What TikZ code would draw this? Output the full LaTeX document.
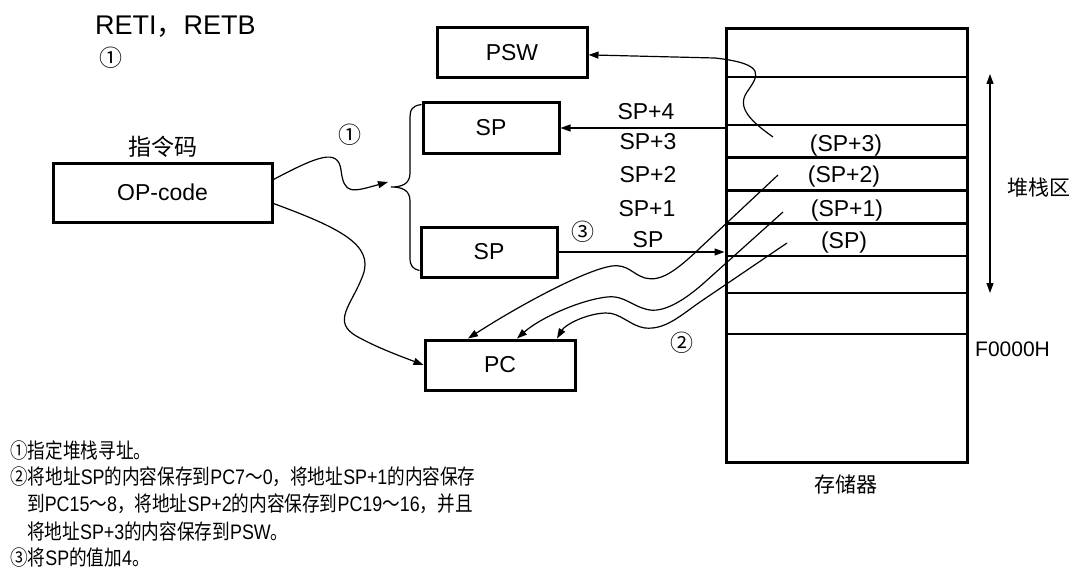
\documentclass[tikz,border=0pt]{standalone}
\usepackage{fontspec}
\setmainfont{Liberation Sans}
\newfontfamily\zhfont{Noto Sans CJK SC}
\newfontfamily\zhnote[FakeStretch=0.84]{Noto Sans CJK SC}
\newfontfamily\lnote[FakeStretch=0.85]{Liberation Sans}
\newcommand{\zh}[1]{{\zhfont#1}}
\newcommand{\zn}[1]{{\zhnote#1}}
\usetikzlibrary{arrows.meta}
\tikzset{
  reg/.style={draw, line width=3pt, minimum height=50pt, inner sep=0pt, font=\fontsize{23}{27}\selectfont},
  lbl/.style={font=\fontsize{23}{27}\selectfont, inner sep=0pt},
  small/.style={font=\fontsize{21}{25}\selectfont, inner sep=0pt},
  note/.style={font=\fontsize{21}{25}\selectfont\lnote, inner sep=0pt, anchor=west},
  arr/.style={-{Triangle[length=10pt,width=7pt]}, line width=1.2pt},
  wire/.style={line width=1.2pt}
}

\begin{document}
\begin{tikzpicture}[x=1pt,y=-1pt]
\useasboundingbox (0,0) rectangle (1072,578);
\node[lbl, anchor=west, font=\fontsize{27}{30}\selectfont] (title) at (95,27) {RETI\zh{，}RETB};
\node[lbl] (c1a) at (111,58) {\zh{①}};
\node[lbl] (opname) at (163,147) {\zh{指令码}};
\node[reg, minimum width=219pt, minimum height=59pt] (opcode) at (162.5,192.5) {OP-code};
\node[reg, minimum width=150pt] (psw) at (512,53) {PSW};
\node[reg, minimum width=136pt] (sptop) at (491,128) {SP};
\node[reg, minimum width=136pt] (spbot) at (489,252) {SP};
\node[reg, minimum width=150pt] (pc) at (500,365) {PC};
\node[draw, line width=3pt, minimum width=241pt, minimum height=433pt, inner sep=0pt] (mem) at (846.5,245.5) {};
\foreach \y in {77,125,256,293,334}
  \draw[line width=1.5pt] (mem.west |- 0,\y) -- (mem.east |- 0,\y);
\foreach \y in {157,190,223}
  \draw[line width=3pt] (mem.west |- 0,\y) -- (mem.east |- 0,\y);
\node[lbl] (a4) at (646,112) {SP+4};
\node[lbl] (a3) at (648,142) {SP+3};
\node[lbl] (a2) at (648,175) {SP+2};
\node[lbl] (a1) at (647,209) {SP+1};
\node[lbl] (a0) at (648,240) {SP};
\node[lbl] (m3) at (846,146) {(SP+3)};
\node[lbl] (m2) at (844,177) {(SP+2)};
\node[lbl] (m1) at (847,211) {(SP+1)};
\node[lbl] (m0) at (844,243) {(SP)};
\node[lbl] (c1b) at (350,135) {\zh{①}};
\node[lbl] (c3) at (583,232) {\zh{③}};
\node[lbl] (c2) at (682,343) {\zh{②}};
\coordinate (stop) at (990,74);
\coordinate (sbot) at (990,293);
\draw[{Triangle[length=10pt,width=7pt]}-{Triangle[length=10pt,width=7pt]}, line width=1.2pt] (stop) -- (sbot);
\node[small, anchor=west] (stack) at (1007,188) {\zh{堆栈区}};
\node[small, anchor=west] (base) at (975,349) {F0000H};
\node[small] (memname) at (846,484) {\zh{存储器}};
\node[note] (n1) at (10,451) {\zn{①指定堆栈寻址。}};
\node[note] (n2) at (10,477) {\zn{②将地址}SP\zn{的内容保存到}PC7\zn{～}0\zn{，将地址}SP+1\zn{的内容保存}};
\node[note] (n3) at (27,504) {\zn{到}PC15\zn{～}8\zn{，将地址}SP+2\zn{的内容保存到}PC19\zn{～}16\zn{，并且}};
\node[note] (n4) at (27,531) {\zn{将地址}SP+3\zn{的内容保存到}PSW\zn{。}};
\node[note] (n5) at (10,558) {\zn{③将}SP\zn{的值加}4\zn{。}};
\coordinate (p3) at (773,137);
\draw[arr] (p3) .. controls (752,122) and (736,108) .. (747,92) .. controls (758,76) and (768,64) .. (715,58) -- (psw);
\draw[arr] (mem.west |- sptop) -- (sptop);
\draw[arr] (spbot) -- (spbot -| mem.west);
\coordinate (bt) at (391,187);
\coordinate (fork) at (388,182);
\draw[arr] ([yshift=13pt]opcode.east) .. controls (318,156) and (338,148) .. (341,170) .. controls (344,195) and (352,192) .. (fork);
\draw[wire] ([yshift=-3pt]sptop.north west) .. controls (411,106) and (410,110) .. (410,120) -- (410,173) .. controls (410,184) and (402,187) .. (bt) .. controls (402,187) and (410,190) .. (410,201) -- (410,258) .. controls (410,266) and (413,269) .. ([yshift=8pt]spbot.south west);
\draw[arr] ([yshift=-11pt]opcode.east) .. controls (340,228) and (374,245) .. (363,275) .. controls (352,305) and (330,322) .. (358,337) .. controls (378,348) and (400,356) .. (pc.west);
\coordinate (s2) at (778,175);
\coordinate (s1) at (783,212);
\coordinate (s0) at (787,243);
\draw[arr] (s2) -- (700,248) .. controls (675,272) and (660,282) .. (645,278) .. controls (632,274) and (628,264) .. (612,266) .. controls (585,270) and (520,305) .. ([xshift=-32pt]pc.north);
\draw[arr] (s1) -- (705,282) .. controls (685,300) and (665,312) .. (650,310) .. controls (632,307) and (625,295) .. (607,297) .. controls (580,300) and (540,318) .. ([xshift=17pt]pc.north);
\draw[arr] (s0) -- (700,302) .. controls (680,316) and (665,330) .. (645,328) .. controls (630,326) and (620,312) .. (605,313) .. controls (585,314) and (565,325) .. ([xshift=57pt]pc.north);
\end{tikzpicture}
\end{document}
